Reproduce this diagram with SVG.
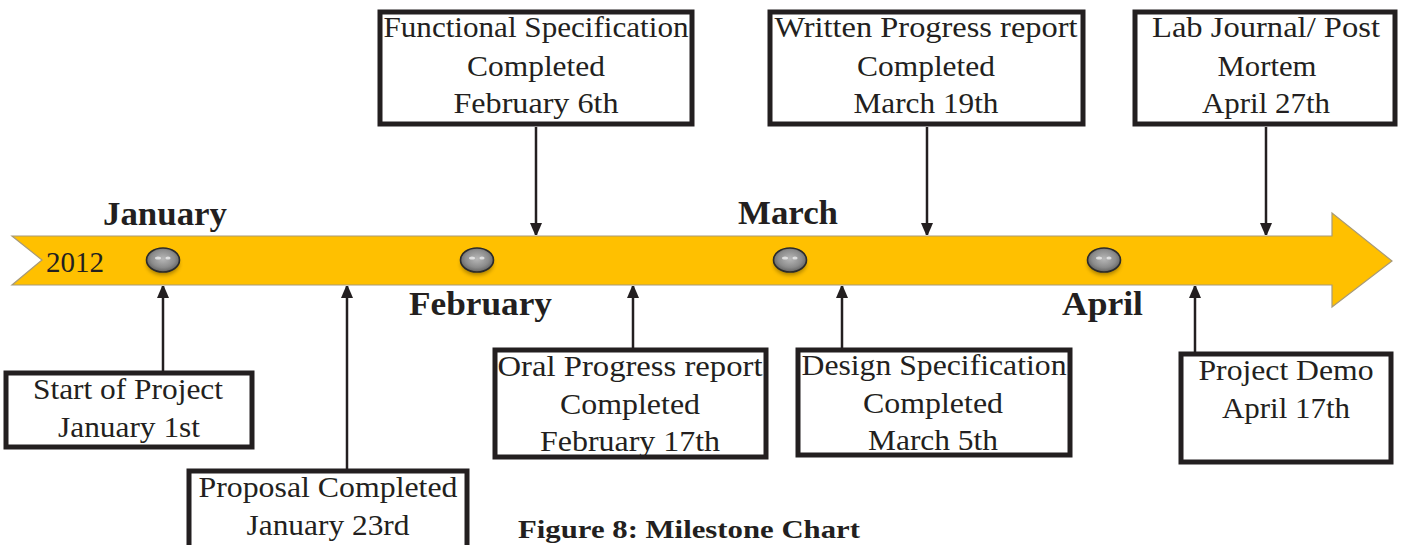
<svg xmlns="http://www.w3.org/2000/svg" width="1403" height="545" viewBox="0 0 1403 545">
  <style>
    .box { fill: #ffffff; stroke: #231f20; stroke-width: 5; }
    .t { font-family: "Liberation Serif", "Times New Roman", serif; font-size: 30px; fill: #231f20; text-anchor: middle; }
    .m { font-family: "Liberation Serif", "Times New Roman", serif; font-size: 33px; font-weight: bold; fill: #231f20; }
    .cap { font-family: "Liberation Serif", "Times New Roman", serif; font-size: 26px; font-weight: bold; fill: #231f20; }
    .yr { font-family: "Liberation Serif", "Times New Roman", serif; font-size: 29px; fill: #231f20; }
    .conn { stroke: #231f20; stroke-width: 2.5; fill: none; marker-end: url(#ah); }
    .bead { fill: url(#beadGrad); stroke: #2b2b2b; stroke-width: 1.6; }
    .hl { fill: #ffffff; opacity: 0.65; filter: url(#soft); }
    .shadow { fill: #000000; opacity: 0.35; filter: url(#blur); }
  </style>
  <defs>
    <marker id="ah" markerUnits="userSpaceOnUse" markerWidth="12" markerHeight="16" viewBox="0 0 12 16" refX="12" refY="6" orient="auto">
      <path d="M0,0 L14,6 L0,12 Z" fill="#231f20"/>
    </marker>
    <radialGradient id="beadGrad" cx="0.5" cy="0.45" r="0.6">
      <stop offset="0" stop-color="#b8b8b8"/>
      <stop offset="0.6" stop-color="#8c8c8c"/>
      <stop offset="1" stop-color="#555555"/>
    </radialGradient>
    <filter id="blur" x="-50%" y="-50%" width="200%" height="200%">
      <feGaussianBlur stdDeviation="2"/>
    </filter>
    <filter id="soft" x="-50%" y="-50%" width="200%" height="200%">
      <feGaussianBlur stdDeviation="0.6"/>
    </filter>
  </defs>

  <!-- timeline band -->
  <g id="timeline">
    <path d="M12,236 L1332,236 L1332,213 L1392,261 L1332,307 L1332,285 L12,285 L42,260 Z" fill="#ffc000" stroke="#a89a78" stroke-width="1.2"/>
    <text class="yr" x="46" y="272" textLength="58" lengthAdjust="spacingAndGlyphs">2012</text>
  </g>

  <!-- beads -->
  <g id="beads">
    <g id="bead1">
      <ellipse class="shadow" cx="163" cy="264" rx="16" ry="11"/>
      <ellipse class="bead" cx="163" cy="260" rx="16.5" ry="12"/>
      <ellipse class="hl" cx="158" cy="258" rx="3" ry="1.6"/>
      <ellipse class="hl" cx="168" cy="258" rx="2.6" ry="1.6"/>
    </g>
    <g id="bead2">
      <ellipse class="shadow" cx="477" cy="264" rx="16" ry="11"/>
      <ellipse class="bead" cx="477" cy="260" rx="16.5" ry="12"/>
      <ellipse class="hl" cx="472" cy="258" rx="3" ry="1.6"/>
      <ellipse class="hl" cx="482" cy="258" rx="2.6" ry="1.6"/>
    </g>
    <g id="bead3">
      <ellipse class="shadow" cx="790" cy="264" rx="16" ry="11"/>
      <ellipse class="bead" cx="790" cy="260" rx="16.5" ry="12"/>
      <ellipse class="hl" cx="785" cy="258" rx="3" ry="1.6"/>
      <ellipse class="hl" cx="795" cy="258" rx="2.6" ry="1.6"/>
    </g>
    <g id="bead4">
      <ellipse class="shadow" cx="1104" cy="264" rx="16" ry="11"/>
      <ellipse class="bead" cx="1104" cy="260" rx="16.5" ry="12"/>
      <ellipse class="hl" cx="1099" cy="258" rx="3" ry="1.6"/>
      <ellipse class="hl" cx="1109" cy="258" rx="2.6" ry="1.6"/>
    </g>
  </g>

  <!-- month labels -->
  <g id="months">
    <text class="m" x="103" y="225" textLength="124" lengthAdjust="spacingAndGlyphs">January</text>
    <text class="m" x="409" y="315" textLength="143" lengthAdjust="spacingAndGlyphs">February</text>
    <text class="m" x="738" y="224" textLength="100" lengthAdjust="spacingAndGlyphs">March</text>
    <text class="m" x="1062" y="315" textLength="81" lengthAdjust="spacingAndGlyphs">April</text>
  </g>

  <!-- connectors -->
  <g id="connectors">
    <line class="conn" x1="163" y1="371" x2="163" y2="286"/>
    <line class="conn" x1="347" y1="469" x2="347" y2="286"/>
    <line class="conn" x1="536" y1="127" x2="536" y2="235"/>
    <line class="conn" x1="633" y1="348" x2="633" y2="286"/>
    <line class="conn" x1="842" y1="348" x2="842" y2="286"/>
    <line class="conn" x1="927" y1="127" x2="927" y2="235"/>
    <line class="conn" x1="1195" y1="352" x2="1195" y2="286"/>
    <line class="conn" x1="1266" y1="127" x2="1266" y2="235"/>
  </g>

  <!-- nodes -->
  <g id="start">
    <rect class="box" x="6" y="373" width="246" height="74"/>
    <text class="t" x="128" y="399" textLength="190" lengthAdjust="spacingAndGlyphs">Start of Project</text>
    <text class="t" x="129" y="437" textLength="142" lengthAdjust="spacingAndGlyphs">January 1st</text>
  </g>
  <g id="proposal">
    <rect class="box" x="189" y="471" width="278" height="90"/>
    <text class="t" x="328" y="497" textLength="259" lengthAdjust="spacingAndGlyphs">Proposal Completed</text>
    <text class="t" x="328" y="535" textLength="163" lengthAdjust="spacingAndGlyphs">January 23rd</text>
  </g>
  <g id="functional">
    <rect class="box" x="380" y="12" width="312" height="112"/>
    <text class="t" x="536" y="37" textLength="305" lengthAdjust="spacingAndGlyphs">Functional Specification</text>
    <text class="t" x="536" y="76" textLength="138" lengthAdjust="spacingAndGlyphs">Completed</text>
    <text class="t" x="536" y="113" textLength="165" lengthAdjust="spacingAndGlyphs">February 6th</text>
  </g>
  <g id="oral">
    <rect class="box" x="495" y="350" width="271" height="107"/>
    <text class="t" x="630" y="376" textLength="265" lengthAdjust="spacingAndGlyphs">Oral Progress report</text>
    <text class="t" x="630" y="414" textLength="140" lengthAdjust="spacingAndGlyphs">Completed</text>
    <text class="t" x="630" y="451" textLength="180" lengthAdjust="spacingAndGlyphs">February 17th</text>
  </g>
  <g id="design">
    <rect class="box" x="798" y="350" width="272" height="105"/>
    <text class="t" x="934" y="375" textLength="265" lengthAdjust="spacingAndGlyphs">Design  Specification</text>
    <text class="t" x="933" y="413" textLength="140" lengthAdjust="spacingAndGlyphs">Completed</text>
    <text class="t" x="933" y="450" textLength="130" lengthAdjust="spacingAndGlyphs">March 5th</text>
  </g>
  <g id="written">
    <rect class="box" x="770" y="12" width="313" height="112"/>
    <text class="t" x="926" y="37" textLength="303" lengthAdjust="spacingAndGlyphs">Written  Progress  report</text>
    <text class="t" x="926" y="76" textLength="138" lengthAdjust="spacingAndGlyphs">Completed</text>
    <text class="t" x="926" y="113" textLength="145" lengthAdjust="spacingAndGlyphs">March 19th</text>
  </g>
  <g id="labjournal">
    <rect class="box" x="1135" y="12" width="260" height="112"/>
    <text class="t" x="1266" y="37" textLength="228" lengthAdjust="spacingAndGlyphs">Lab Journal/  Post</text>
    <text class="t" x="1267" y="76" textLength="99" lengthAdjust="spacingAndGlyphs">Mortem</text>
    <text class="t" x="1266" y="113" textLength="128" lengthAdjust="spacingAndGlyphs">April 27th</text>
  </g>
  <g id="demo">
    <rect class="box" x="1181" y="354" width="210" height="108"/>
    <text class="t" x="1286" y="380" textLength="175" lengthAdjust="spacingAndGlyphs">Project Demo</text>
    <text class="t" x="1286" y="418" textLength="128" lengthAdjust="spacingAndGlyphs">April 17th</text>
  </g>

  <g id="caption">
    <text class="cap" x="518" y="538" textLength="342" lengthAdjust="spacingAndGlyphs">Figure 8: Milestone Chart</text>
  </g>
</svg>
